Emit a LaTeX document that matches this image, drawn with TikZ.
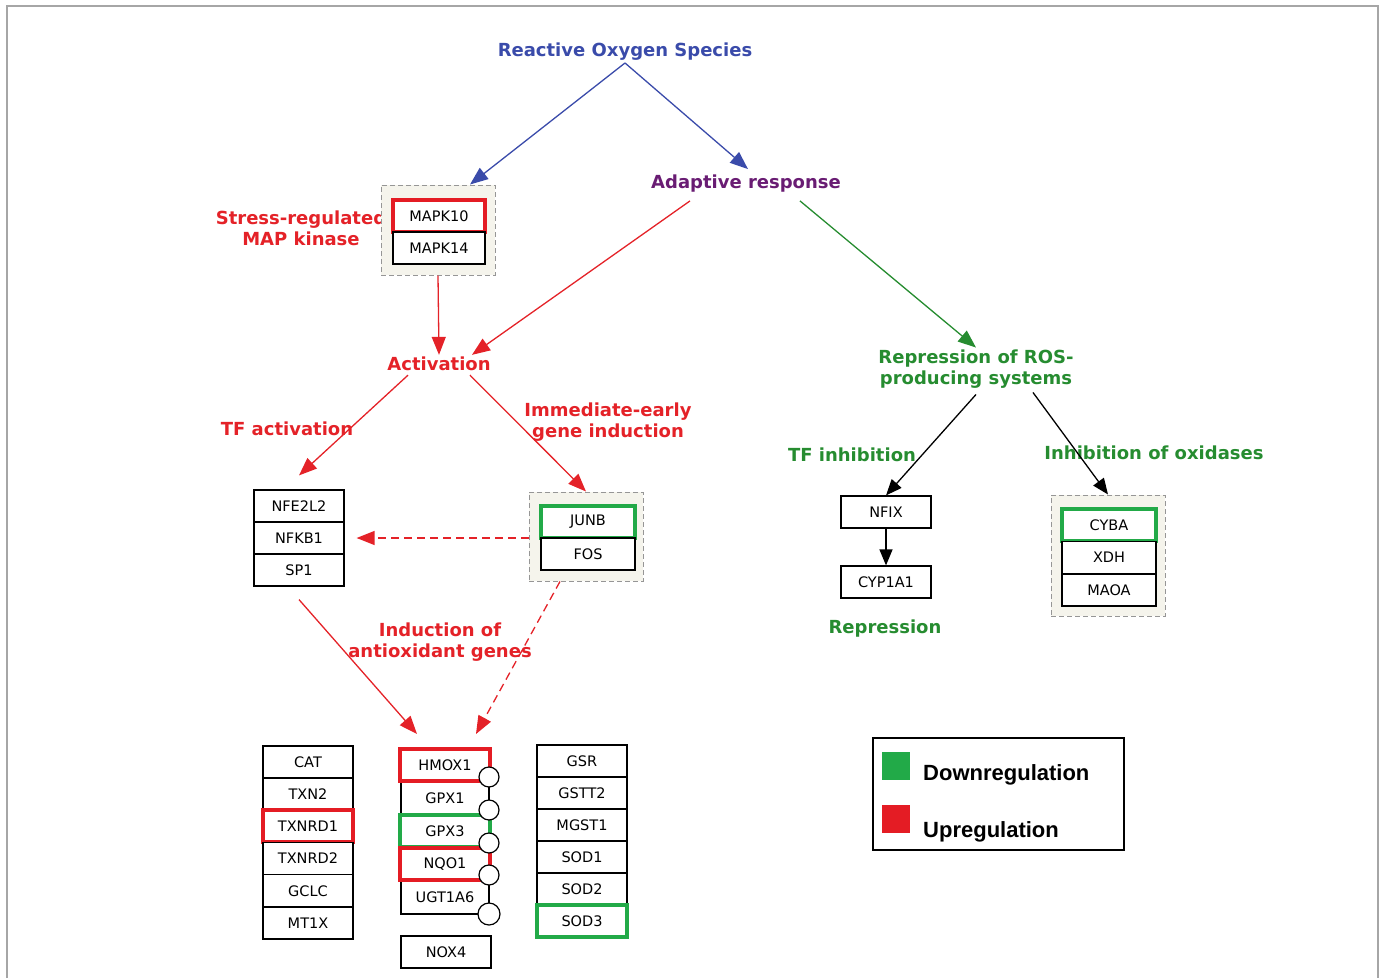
\documentclass[tikz,border=0pt]{standalone}
\usepackage{fontspec}
\setmainfont{DejaVu Sans}
\newfontfamily\legfont{Liberation Sans}
\usetikzlibrary{arrows.meta}
\definecolor{rosblue}{RGB}{58,75,170}
\definecolor{adaptpurple}{RGB}{105,28,115}
\definecolor{actred}{RGB}{228,34,40}
\definecolor{repgreen}{RGB}{38,140,48}
\definecolor{upred}{RGB}{228,28,36}
\definecolor{downgreen}{RGB}{34,170,72}
\definecolor{grpgray}{RGB}{150,150,150}
\definecolor{grpfill}{RGB}{245,244,236}

\begin{document}
\begin{tikzpicture}[x=1pt, y=-1pt,
	lab/.style={font=\fontsize{18}{21}\selectfont\bfseries, align=center, inner sep=2pt, yshift=-2pt},
	gene/.style={draw, fill=white, line width=1.2pt, minimum width=90pt, minimum height=32pt, inner sep=0pt, font=\fontsize{14.5}{16}\selectfont},
	nohl/.style={},
	upbox/.style={draw=upred, line width=4pt},
	downbox/.style={draw=downgreen, line width=4pt},
	grp/.style={draw=grpgray, dash pattern=on 5pt off 3pt, fill=grpfill, line width=1pt, inner sep=0pt},
	longdash/.style={dash pattern=on 8pt off 5pt},
	arr/.style={-{Triangle[length=18pt,width=14pt]}, line width=1.3pt}]
		\useasboundingbox (0,0) rectangle (1385,978);
		\draw[gray!70, line width=1.5pt] (7,978) -- (7,6) -- (1378,6) -- (1378,978);
		\node[lab, rosblue] (ros) at (625,50) {Reactive Oxygen Species};
		\node[lab, adaptpurple] (adapt) at (746,182) {Adaptive response};
		\node[lab, actred] (stress) at (301,226) {Stress-regulated\\MAP kinase};
		\node[lab, actred] (act) at (439,362) {Activation};
		\node[lab, repgreen] (repr) at (976,367) {Repression of ROS-\\producing systems};
		\node[lab, actred] (tfact) at (287,427) {TF activation};
		\node[lab, actred] (ieg) at (608,420) {Immediate-early\\gene induction};
		\node[lab, actred] (induct) at (440,640) {Induction of\\antioxidant genes};
		\node[lab, repgreen] (tfinh) at (852,453) {TF inhibition};
		\node[lab, repgreen] (oxinh) at (1154,451) {Inhibition of oxidases};
		\node[lab, repgreen] (repress) at (885,627) {Repression};

		\node[grp, minimum width=114pt, minimum height=90pt] (mapk) at (438,230) {};
		\node[gene, minimum width=92pt, upbox] (MAPK10) at (439,216) {MAPK10};
		\node[gene, minimum width=92pt] (MAPK14) at (439,248) {MAPK14};

		\node[grp, minimum width=114pt, minimum height=89pt] (jun) at (586,536.5) {};
		\node[gene, minimum width=94pt, downbox] (JUNB) at (588,522) {JUNB};
		\node[gene, minimum width=94pt] (FOS) at (588,554) {FOS};

		\node[grp, minimum width=114pt, minimum height=121pt] (oxid) at (1108,555.5) {};
		\foreach \g/\s [count=\i] in {CYBA/downbox, XDH/nohl, MAOA/nohl}
			\node[gene, minimum width=94pt, \s] (\g) at (1109,525+32.5*\i-32.5) {\g};

		\foreach \g [count=\i] in {NFE2L2, NFKB1, SP1}
			\node[gene] (\g) at (299,506+32*\i-32) {\g};
		\node[gene] (NFIX) at (886,512) {NFIX};
		\node[gene] (CYP1A1) at (886,582) {CYP1A1};

		\foreach \g/\s [count=\i] in {CAT/nohl, TXN2/nohl, TXNRD1/upbox, TXNRD2/nohl, GCLC/nohl, MT1X/nohl}
			\node[gene, \s] (\g) at (308,762+32.2*\i-32.2) {\g};
		\foreach \g/\s [count=\i] in {GSR/nohl, GSTT2/nohl, MGST1/nohl, SOD1/nohl, SOD2/nohl, SOD3/downbox}
			\node[gene, \s] (\g) at (582,761+32*\i-32) {\g};

		\draw[line width=1.2pt] (489,748) -- (401,748) -- (401,914) -- (489,914) -- cycle;
		\foreach \g/\s [count=\i] in {HMOX1/upbox, GPX1/nohl, GPX3/downbox, NQO1/upbox, UGT1A6/nohl}
			\node[gene, draw=none, fill=none, \s] (\g) at (445,765+33*\i-33) {\g};
		\foreach \y in {777,810,843,875}
			\draw[line width=1.2pt, fill=white] (489,\y) circle (10pt);
		\draw[line width=1.2pt, fill=white] (489,914) circle (11pt);
		\node[gene] (NOX4) at (446,952) {NOX4};

		\draw[arr, rosblue] (ros.south) -- ([xshift=32pt]mapk.north);
		\draw[arr, rosblue] (ros.south) -- ([xshift=2pt, yshift=4pt]adapt.north);
		\draw[arr, actred] (mapk.south) -- (act.north);
		\draw[arr, actred] ([xshift=-56pt, yshift=-6pt]adapt.south) -- ([xshift=33pt]act.north);
		\draw[arr, repgreen] ([xshift=54pt, yshift=-6pt]adapt.south) -- (repr.north);
		\draw[arr, actred] ([xshift=-31pt, yshift=-2pt]act.south) -- ([yshift=14pt]NFE2L2.north);
		\draw[arr, actred] ([xshift=31pt, yshift=-2pt]act.south) -- (jun.north);
		\draw[arr, actred, longdash] (jun.west |- NFKB1) -- ([xshift=12pt]NFKB1.east);
		\draw[arr, actred, longdash] ([xshift=-26pt]jun.south) -- ([xshift=31pt, yshift=13pt]HMOX1.north);
		\draw[arr, actred] ([yshift=-13pt]SP1.south) -- ([xshift=-28pt, yshift=13pt]HMOX1.north);
		\draw[arr, black, -{Triangle[length=16pt,width=13pt]}] ([yshift=-4pt]repr.south) -- (NFIX.north);
		\draw[arr, black, -{Triangle[length=16pt,width=13pt]}] ([xshift=57pt, yshift=-2pt]repr.south) -- (oxid.north);
		\draw[arr, black, -{Triangle[length=16pt,width=13pt]}] (NFIX.south) -- (CYP1A1.north);

		\node[draw, line width=2.5pt, minimum width=251pt, minimum height=112pt] (legend) at (998.5,794) {};
		\node[fill=downgreen, minimum size=28pt, inner sep=0pt] (downsq) at (896,766) {};
		\node[fill=upred, minimum size=28pt, inner sep=0pt] (upsq) at (896,819) {};
		\node[anchor=west, inner sep=0pt, font=\legfont\fontsize{22}{24}\selectfont\bfseries] (downtxt) at (923,775) {Downregulation};
		\node[anchor=west, inner sep=0pt, font=\legfont\fontsize{22}{24}\selectfont\bfseries] (uptxt) at (923,832) {Upregulation};
\end{tikzpicture}
\end{document}
